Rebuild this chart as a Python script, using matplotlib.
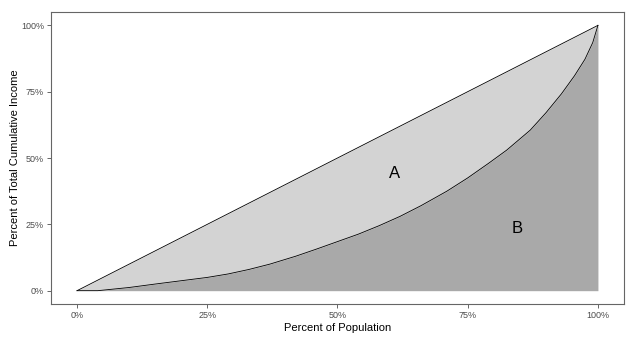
import numpy as np
import matplotlib.pyplot as plt
from matplotlib.ticker import PercentFormatter

plt.rcParams['font.family'] = ['Liberation Sans', 'DejaVu Sans']

# Lorenz curve (share of population vs share of income)
pop_share = [0, 0.04, 0.10, 0.15, 0.21, 0.25, 0.29, 0.33, 0.37, 0.42, 0.46,
             0.50, 0.54, 0.58, 0.62, 0.66, 0.71, 0.75, 0.79, 0.825, 0.87,
             0.90, 0.93, 0.955, 0.975, 0.99, 1.0]
income_share = [0, 0, 0.012, 0.025, 0.040, 0.050, 0.063, 0.080, 0.100, 0.130, 0.157,
                0.185, 0.213, 0.245, 0.280, 0.320, 0.375, 0.425, 0.480, 0.530, 0.605,
                0.670, 0.742, 0.810, 0.872, 0.935, 1.0]
tick_vals = [0, 0.25, 0.5, 0.75, 1.0]
area_labels = ["A", "B"]
label_pos = [(0.61, 0.443), (0.845, 0.235)]

x = np.array(pop_share)
y = np.array(income_share)

fig = plt.figure(figsize=(6.39, 3.45), dpi=100)
ax = fig.add_axes([0.0798, 0.119, 0.8967, 0.846])

# area A between equality line and Lorenz curve, area B under the curve
ax.fill_between(x, y, x, color='#D3D3D3', linewidth=0)
ax.fill_between(x, 0, y, color='#A9A9A9', linewidth=0)
ax.plot(x, x, color='black', linewidth=0.6)
ax.plot(x, y, color='black', linewidth=0.6)

for lab, (lx, ly) in zip(area_labels, label_pos):
    ax.text(lx, ly, lab, fontsize=12, ha='center', va='center', color='black')

ax.set_xlim(-0.05, 1.05)
ax.set_ylim(-0.05, 1.05)
ax.set_xticks(tick_vals)
ax.set_yticks(tick_vals)
ax.xaxis.set_major_formatter(PercentFormatter(1.0, decimals=0))
ax.yaxis.set_major_formatter(PercentFormatter(1.0, decimals=0))
ax.tick_params(axis='both', length=3, width=0.6, color='#4D4D4D',
               labelcolor='#4D4D4D', labelsize=6.5, pad=2)

for sp in ax.spines.values():
    sp.set_color('#666666')
    sp.set_linewidth(0.8)

ax.set_xlabel("Percent of Population", fontsize=8, labelpad=2)
ax.set_ylabel("Percent of Total Cumulative Income", fontsize=8, labelpad=1)

fig.savefig("out.png", dpi=100, facecolor='white')
